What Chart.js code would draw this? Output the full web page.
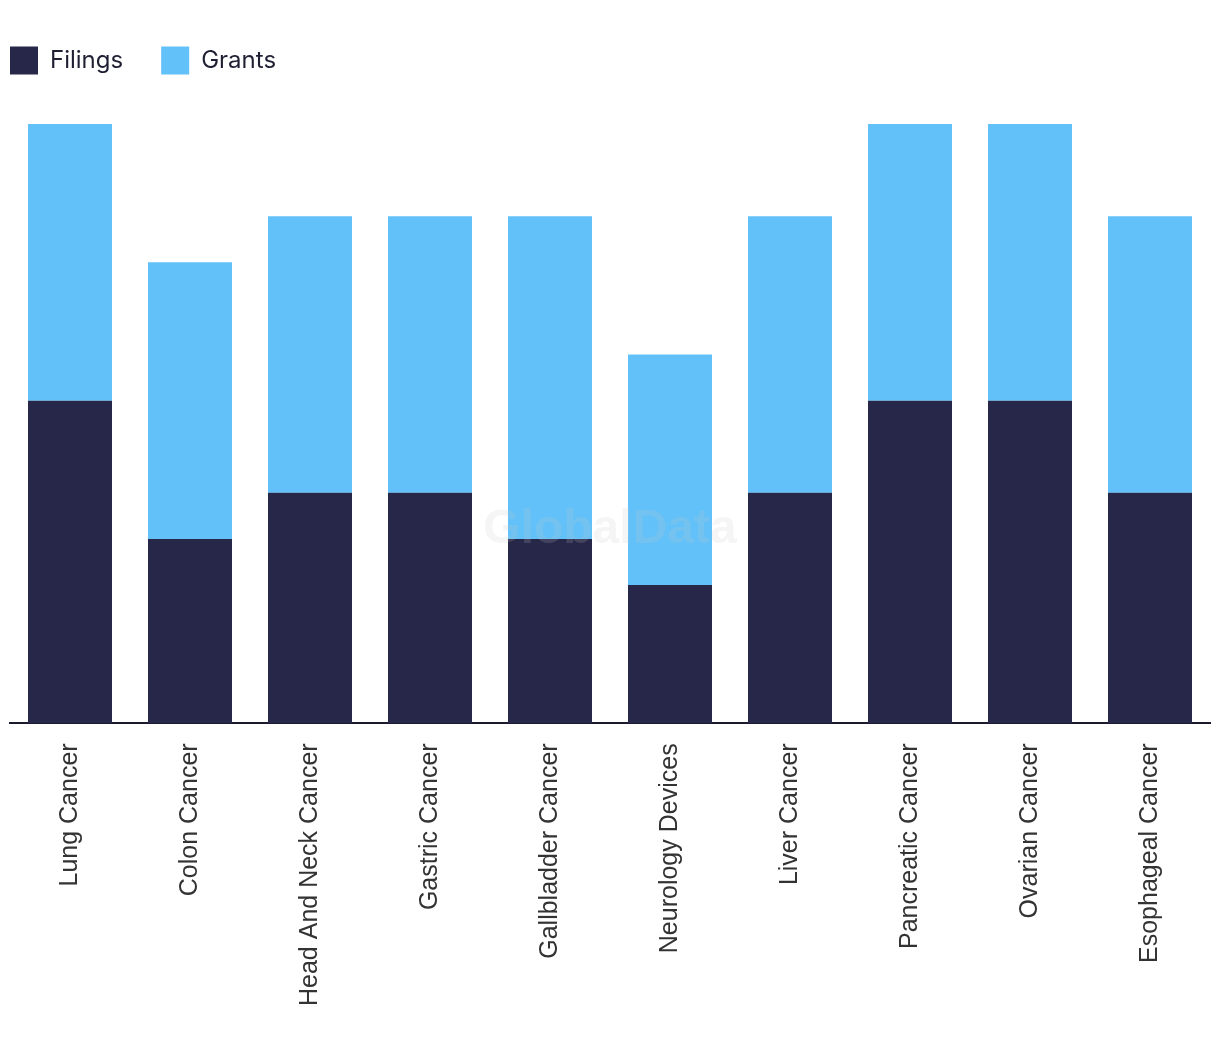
<!DOCTYPE html>
<html>
<head>
<meta charset="utf-8">
<script src="https://cdn.jsdelivr.net/npm/chart.js@4/dist/chart.umd.min.js"></script>
<style>
  html, body { margin: 0; padding: 0; background: #fff; }
  #wrap { width: 1220px; height: 1060px; position: relative; }
</style>
</head>
<body>
<div id="wrap"><canvas id="chart"></canvas></div>
<script>
const categories = ['Lung Cancer', 'Colon Cancer', 'Head And Neck Cancer', 'Gastric Cancer', 'Gallbladder Cancer',
  'Neurology Devices', 'Liver Cancer', 'Pancreatic Cancer', 'Ovarian Cancer', 'Esophageal Cancer'];
const filings = [7, 4, 5, 5, 4, 3, 5, 7, 7, 5];
const grants = [6, 6, 6, 6, 7, 5, 6, 6, 6, 6];

const LEGEND_PAD = 38;

// watermark in the middle of the plot
const watermark = {
  id: 'watermark',
  afterDatasetsDraw(chart) {
    const { ctx, chartArea } = chart;
    ctx.save();
    ctx.font = 'bold 48px "Liberation Sans", Arial, sans-serif';
    ctx.fillStyle = 'rgba(200, 200, 200, 0.18)';
    ctx.textAlign = 'center';
    ctx.textBaseline = 'middle';
    ctx.fillText('GlobalData', (chartArea.left + chartArea.right) / 2, 530);
    ctx.restore();
  }
};

// nudge the legend up/left so it sits flush with the plot edge
const legendShift = {
  id: 'legendShift',
  afterLayout(chart) {
    const lg = chart.legend;
    if (!lg) return;
    lg.left = 10 - LEGEND_PAD;
    lg.top = 46 - (LEGEND_PAD - 0.6);
  }
};

new Chart(document.getElementById('chart'), {
  type: 'bar',
  data: {
    labels: categories,
    datasets: [
      { label: 'Filings', data: filings, backgroundColor: '#27274a' },
      { label: 'Grants', data: grants, backgroundColor: '#62c1f8' }
    ]
  },
  options: {
    responsive: true,
    maintainAspectRatio: false,
    animation: false,
    categoryPercentage: 0.7,
    barPercentage: 1,
    layout: { padding: { left: 10, right: 10, top: 48, bottom: 42 } },
    plugins: {
      legend: {
        position: 'top',
        align: 'start',
        labels: {
          boxWidth: 28,
          boxHeight: 28,
          padding: LEGEND_PAD,
          color: '#1f1f33',
          font: { family: 'Inter, "Noto Sans", sans-serif', size: 24 }
        }
      },
      tooltip: { enabled: false }
    },
    scales: {
      x: {
        stacked: true,
        grid: { display: false },
        border: { display: true, color: '#1a1a2e', width: 2 },
        ticks: {
          color: '#333',
          minRotation: 90,
          maxRotation: 90,
          padding: 12,
          font: { family: '"Liberation Sans", Arial, sans-serif', size: 25 }
        }
      },
      y: {
        stacked: true,
        display: false,
        min: 0,
        max: 13
      }
    }
  },
  plugins: [watermark, legendShift]
});
</script>
</body>
</html>
